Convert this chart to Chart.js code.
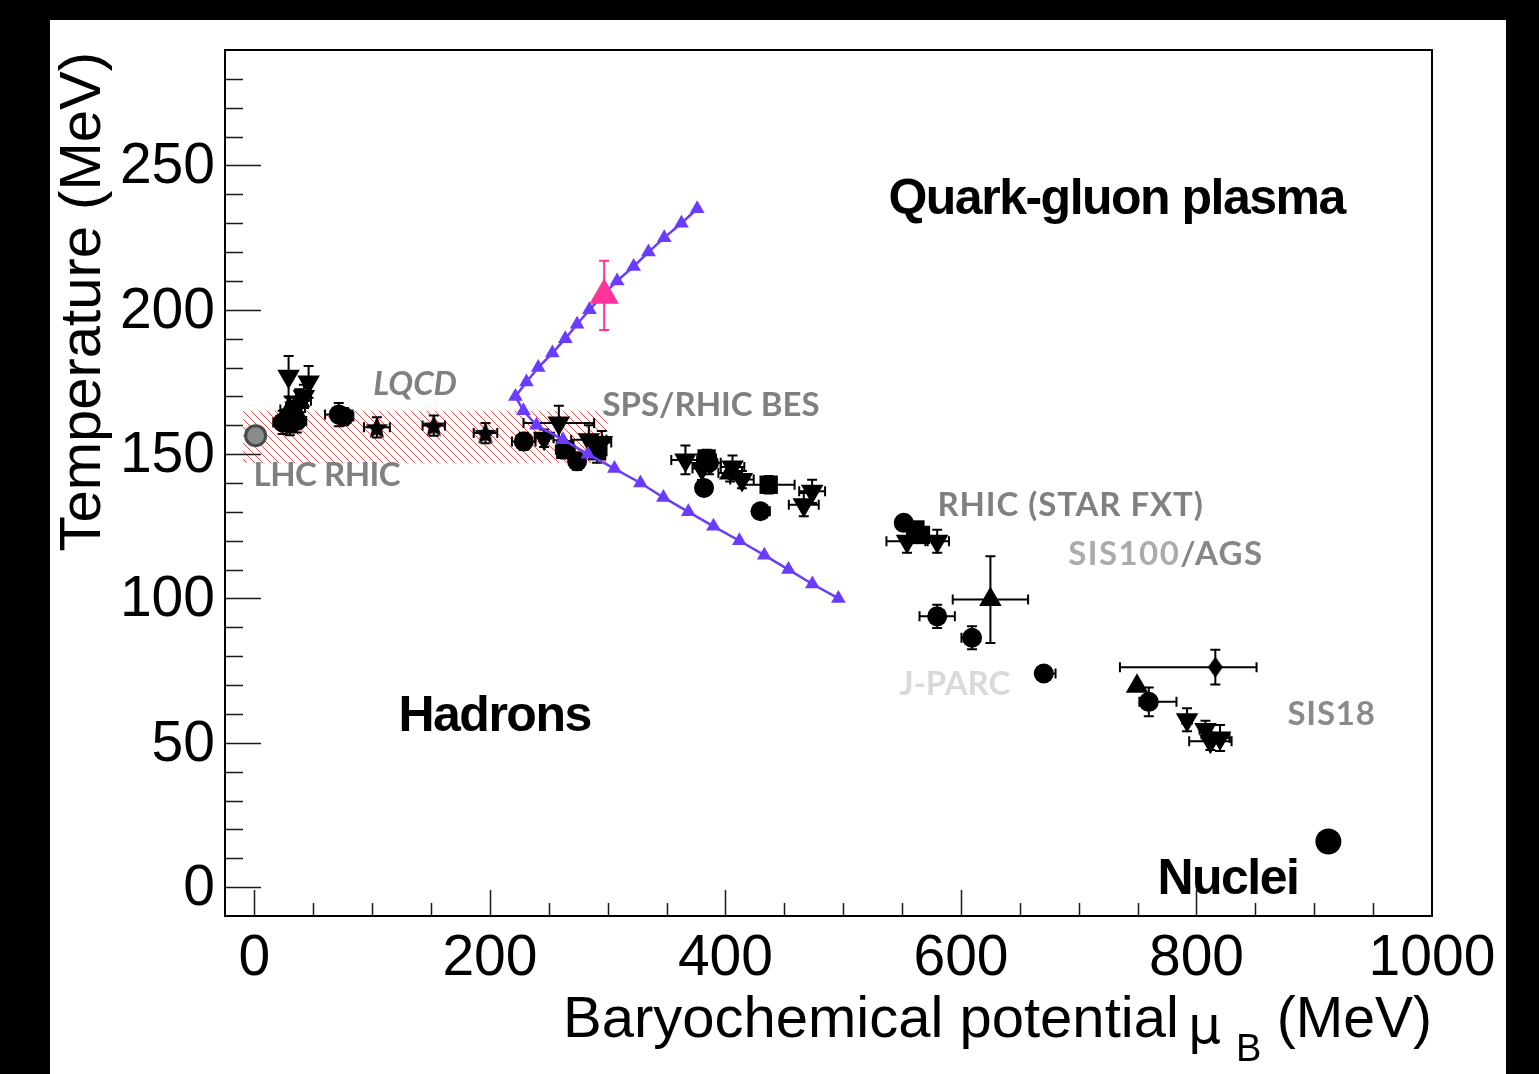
<!DOCTYPE html>
<html>
<head>
<meta charset="utf-8">
<title>QCD phase diagram</title>
<script src="https://cdn.jsdelivr.net/npm/chart.js@4.4.1/dist/chart.umd.min.js"></script>
<style>
  html, body { margin: 0; padding: 0; background: #000; overflow: hidden; }
  #wrap { position: absolute; left: 0; top: 0; width: 1539px; height: 1074px; }
</style>
</head>
<body>
<div id="wrap"><canvas id="phase" width="1539" height="1074"></canvas></div>
<script>
// ---- axes ----
const muBRange = [-25, 1000];
const tempRange = [-10, 290];
const muBMajorTicks = [0, 200, 400, 600, 800, 1000];
const muBMinorStep = 50;
const tempMajorTicks = [0, 50, 100, 150, 200, 250];
const tempMinorStep = 10;

// ---- freeze-out points (MeV); errors are [low, high] or symmetric ----
const circleMuB = [24, 30, 36, 71.6, 76, 228.7, 274, 386, 381.8, 429.7, 551.4, 579.8, 609.4, 670.3, 759.5];
const circleT   = [161, 160.5, 161.5, 163.7, 163, 154.4, 147.5, 147, 138.3, 130.2, 126.2, 93.8, 86.4, 74, 64.2];
const circleErrMuB = [8, 8, 8, 11.6, 8, 10, 6, 10, 0, [0, 8], 5, 15, [9, 0], [0, 10], [8, 23.5]];
const circleErrT   = [4, 4, 4, 4, 3, 3, 3, 4, 0, 0, 2, 4, 4, 2, 5];

const downTriMuB = [29, 46, 42, 35, 246, 258.5, 284, 295, 366, 380, 406, 414, 473.6, 466.5, 554.2, 579.8, 792, 807.6, 820, 811.8];
const downTriT   = [177, 175, 170, 166, 155.5, 160.8, 155, 154, 148, 145, 145.5, 141.2, 137.1, 132.5, 119.8, 119.8, 58, 54.6, 51.7, 50.5];
const downTriErrMuB = [0, 0, 6, 8, 8, 30, 15, 8, 12, 8, 10, 10, 11, 12.7, 17.5, 10, 4, 5, 8, 18];
const downTriErrT   = [7, 5.5, 4, 4, 3, 6, 5, 4, 5, 4, 4, 3, 4, 4, 4, 4, 4, 3, 4.5, 3];

const upTriMuB = [30, 38, 404, 625, 749.5];
const upTriT   = [165.5, 168.5, 143.5, 99.6, 69.6];
const upTriErrMuB = [8, 10, 10, 32, 0];
const upTriErrT   = [4, 4, 3, 15, 0];

const squareMuB = [33, 264, 291, 384, 436.7, 561.3, 566];
const squareT   = [163, 151.5, 151, 148.5, 139.4, 123.9, 122];
const squareErrMuB = [8, 8, 8, 8, 22, 6, 5];
const squareErrT   = [3, 3, 4, 3, 3, 2, 2];

const starMuB = [104, 152.3, 196.2];
const starT   = [159.3, 159.9, 157.3];
const starErrMuB = [11, 9.5, 10];
const starErrT   = [3.5, 3.5, 3.5];

const diamondMuB = [816];
const diamondT   = [76.2];
const diamondErrMuB = [[81, 35]];
const diamondErrT   = [6];

const lhcMuB = [1];
const lhcT   = [156.4];

const nucleiMuB = [912];
const nucleiT   = [15.8];

// lattice QCD crossover band
const lqcdBandMuB = [-10, 300];
const lqcdBandT   = [147, 165];

// model phase boundary
const boundaryMuB = [376, 362.6, 348, 334.6, 322, 308, 295.5, 284.5, 274, 264, 253, 241, 231, 221.6,
                     228.4, 239.5, 262, 283.2, 305.7, 327.8, 347.3, 368.5, 389.8, 411.8, 433, 453.5, 473.8, 495.9];
const boundaryT   = [235, 230, 225, 220, 215, 210, 205, 200, 195, 190, 185, 180, 175, 170,
                     165, 160, 155, 150, 145, 140, 135, 130, 125, 120, 115, 110, 105, 100];

// highlighted estimate
const pinkMuB = [297];
const pinkT   = [205];
const pinkErrT = [12];

// ---- helpers ----
const pair = e => Array.isArray(e) ? e : [e, e];
function points(xs, ys, ex, ey) {
  return xs.map((x, i) => {
    const [xl, xh] = pair(ex ? ex[i] : 0);
    const [yl, yh] = pair(ey ? ey[i] : 0);
    return { x, y: ys[i], xl, xh, yl, yh };
  });
}

function hatchPattern(ctx) {
  const s = 8;
  const c = document.createElement('canvas');
  c.width = s; c.height = s;
  const g = c.getContext('2d');
  g.strokeStyle = '#ff5050';
  g.lineWidth = 1;
  g.beginPath();
  g.moveTo(-1, -1); g.lineTo(s + 1, s + 1);
  g.moveTo(s - 1, -1); g.lineTo(s + 1, 1);
  g.moveTo(-1, s - 1); g.lineTo(1, s + 1);
  g.stroke();
  return ctx.createPattern(c, 'repeat');
}

function starMarker(r) {
  const s = Math.ceil(2 * r + 2);
  const c = document.createElement('canvas');
  c.width = s; c.height = s;
  const g = c.getContext('2d');
  g.translate(s / 2, s / 2 + 1);
  g.beginPath();
  for (let k = 0; k < 10; k++) {
    const rad = (k % 2 === 0) ? r : r * 0.45;
    const a = -Math.PI / 2 + k * Math.PI / 5;
    g.lineTo(rad * Math.cos(a), rad * Math.sin(a));
  }
  g.closePath();
  g.fillStyle = '#000';
  g.fill();
  return c;
}

function diamondMarker(w, h) {
  const c = document.createElement('canvas');
  c.width = w; c.height = h;
  const g = c.getContext('2d');
  g.beginPath();
  g.moveTo(w / 2, 0); g.lineTo(w, h / 2); g.lineTo(w / 2, h); g.lineTo(0, h / 2);
  g.closePath();
  g.fillStyle = '#000';
  g.fill();
  return c;
}

const canvas = document.getElementById('phase');
const ctx = canvas.getContext('2d');

const black = '#000';
const purple = '#6a3cff';
const pink = '#ff3399';

const blackMarker = (style, r, extra) => Object.assign({
  pointStyle: style, pointRadius: r, backgroundColor: black, borderColor: black,
  borderWidth: 0, errorColor: black, order: 5
}, extra || {});

const datasets = [
  Object.assign({ label: 'circles', data: points(circleMuB, circleT, circleErrMuB, circleErrT) }, blackMarker('circle', 10)),
  Object.assign({ label: 'down triangles', data: points(downTriMuB, downTriT, downTriErrMuB, downTriErrT) }, blackMarker('triangle', 13, { pointRotation: 180, rotation: 180 })),
  Object.assign({ label: 'up triangles', data: points(upTriMuB, upTriT, upTriErrMuB, upTriErrT) }, blackMarker('triangle', 13)),
  Object.assign({ label: 'squares', data: points(squareMuB, squareT, squareErrMuB, squareErrT) }, blackMarker('rect', 13)),
  Object.assign({ label: 'stars', data: points(starMuB, starT, starErrMuB, starErrT) }, blackMarker(starMarker(12), 12)),
  Object.assign({ label: 'diamond', data: points(diamondMuB, diamondT, diamondErrMuB, diamondErrT) }, blackMarker(diamondMarker(15, 21), 10)),
  Object.assign({ label: 'nuclei', data: points(nucleiMuB, nucleiT) }, blackMarker('circle', 13, { errorColor: null })),
  {
    label: 'LHC RHIC', data: points(lhcMuB, lhcT), pointStyle: 'circle', pointRadius: 10,
    backgroundColor: '#8c8c8c', borderColor: '#4a4a4a', borderWidth: 3, order: 4
  },
  {
    label: 'LQCD upper', type: 'line', data: points(lqcdBandMuB, [lqcdBandT[1], lqcdBandT[1]]),
    borderWidth: 0, borderColor: 'rgba(0,0,0,0)', pointRadius: 0,
    backgroundColor: hatchPattern(ctx), fill: '+1', order: 20
  },
  {
    label: 'LQCD lower', type: 'line', data: points(lqcdBandMuB, [lqcdBandT[0], lqcdBandT[0]]),
    borderWidth: 0, borderColor: 'rgba(0,0,0,0)', pointRadius: 0, fill: false, order: 21
  },
  {
    label: 'boundary', type: 'line', data: points(boundaryMuB, boundaryT),
    borderColor: purple, borderWidth: 2.5, backgroundColor: purple,
    pointStyle: 'triangle', pointRadius: 8.5, pointBorderWidth: 0, fill: false, tension: 0, order: 2
  },
  {
    label: 'estimate', data: points(pinkMuB, pinkT, null, pinkErrT),
    pointStyle: 'triangle', pointRadius: 17, backgroundColor: pink, borderColor: pink,
    borderWidth: 0, errorColor: pink, order: 1
  }
];

// ---- text placed in (muB, T) coordinates: left edge, baseline ----
const regionFont = 'bold 50px "Liberation Sans", Arial, sans-serif';
const facilityFont = 'bold 33px Lato, "Open Sans", sans-serif';
const annotations = [
  { parts: [['Quark-gluon plasma', '#000']], at: [538.4, 233.3], font: regionFont, spacing: '-1.5px' },
  { parts: [['Hadrons', '#000']], at: [122.3, 54], font: regionFont, spacing: '-1.5px' },
  { parts: [['Nuclei', '#000']], at: [766.8, -2.5], font: regionFont, spacing: '-1.5px' },
  { parts: [['LQCD', '#808080']], at: [101, 170.4], font: 'italic ' + facilityFont },
  { parts: [['SPS/RHIC BES', '#808080']], at: [295.5, 163.3], font: facilityFont },
  { parts: [['LHC RHIC', '#808080']], at: [-0.8, 138.8], font: facilityFont, spacing: '-0.5px' },
  { parts: [['RHIC (STAR FXT)', '#808080']], at: [580, 128.7], font: facilityFont, spacing: '0.9px' },
  { parts: [['SIS100', '#ababab'], ['/AGS', '#878787']], at: [691.2, 111.7], font: facilityFont, spacing: '1.4px' },
  { parts: [['J-PARC', '#d9d9d9']], at: [547.7, 66.4], font: facilityFont },
  { parts: [['SIS18', '#8a8a8a']], at: [877.2, 56], font: facilityFont, spacing: '0.8px' }
];

const axisFont = '57px "Liberation Sans", Arial, sans-serif';
const titleFont = '58px "Liberation Sans", Arial, sans-serif';

// error bars, drawn just beneath each dataset's markers
const errorBars = {
  id: 'errorBars',
  beforeDatasetDraw(chart, args) {
    const ds = chart.data.datasets[args.index];
    if (!ds.errorColor) return;
    const xs = chart.scales.x, ys = chart.scales.y, c = chart.ctx;
    const cap = 5;
    c.save();
    c.strokeStyle = ds.errorColor;
    c.lineWidth = 2;
    c.beginPath();
    ds.data.forEach(p => {
      const px = xs.getPixelForValue(p.x), py = ys.getPixelForValue(p.y);
      if (p.xl || p.xh) {
        const a = xs.getPixelForValue(p.x - p.xl), b = xs.getPixelForValue(p.x + p.xh);
        c.moveTo(a, py); c.lineTo(b, py);
        if (p.xl) { c.moveTo(a, py - cap); c.lineTo(a, py + cap); }
        if (p.xh) { c.moveTo(b, py - cap); c.lineTo(b, py + cap); }
      }
      if (p.yl || p.yh) {
        const a = ys.getPixelForValue(p.y - p.yl), b = ys.getPixelForValue(p.y + p.yh);
        c.moveTo(px, a); c.lineTo(px, b);
        if (p.yl) { c.moveTo(px - cap, a); c.lineTo(px + cap, a); }
        if (p.yh) { c.moveTo(px - cap, b); c.lineTo(px + cap, b); }
      }
    });
    c.stroke();
    c.restore();
  }
};

// page, frame, inward ticks, axis labels and region labels
const frame = {
  id: 'frame',
  beforeDraw(chart) {
    const c = chart.ctx;
    c.save();
    c.fillStyle = '#000';
    c.fillRect(0, 0, chart.width, chart.height);
    c.fillStyle = '#fff';
    c.fillRect(50, 20, 1456, chart.height - 20);
    c.restore();
  },
  afterDraw(chart) {
    const c = chart.ctx, area = chart.chartArea;
    const xs = chart.scales.x, ys = chart.scales.y;
    c.save();

    // frame
    c.strokeStyle = '#000';
    c.lineWidth = 2;
    c.strokeRect(area.left, area.top, area.right - area.left, area.bottom - area.top);

    // ticks
    c.lineWidth = 1.5;
    c.strokeStyle = '#1a1a1a';
    c.beginPath();
    for (let v = 0; v < tempRange[1]; v += tempMinorStep) {
      const y = Math.round(ys.getPixelForValue(v)) + 0.5;
      const len = tempMajorTicks.includes(v) ? 36 : 18;
      c.moveTo(area.left, y); c.lineTo(area.left + len, y);
    }
    for (let v = 0; v < muBRange[1]; v += muBMinorStep) {
      const x = Math.round(xs.getPixelForValue(v)) + 0.5;
      const len = muBMajorTicks.includes(v) ? 26 : 13;
      c.moveTo(x, area.bottom); c.lineTo(x, area.bottom - len);
    }
    c.stroke();

    // tick labels
    c.fillStyle = '#000';
    c.font = axisFont;
    c.textAlign = 'right';
    c.textBaseline = 'middle';
    tempMajorTicks.forEach(v => c.fillText(String(v), area.left - 10, ys.getPixelForValue(v) + 2));
    c.textAlign = 'center';
    c.textBaseline = 'alphabetic';
    muBMajorTicks.forEach(v => c.fillText(String(v), xs.getPixelForValue(v), area.bottom + 59));

    // axis titles
    c.font = titleFont;
    c.save();
    c.translate(100, area.top + 2);
    c.rotate(-Math.PI / 2);
    c.textAlign = 'right';
    c.fillText('Temperature (MeV)', 0, 0);
    c.restore();

    const base = 1037;
    c.textAlign = 'right';
    c.font = '57px "Liberation Sans", Arial, sans-serif';
    c.fillText('(MeV)', area.right, base);
    c.textAlign = 'left';
    c.font = titleFont;
    c.fillText('Baryochemical potential', 563, base);
    c.font = '52px "DejaVu Sans", sans-serif';
    c.fillText('\u03bc', 1188, base + 6);
    c.font = '38px "Liberation Sans", Arial, sans-serif';
    c.fillText('B', 1236, base + 24);

    // labels
    c.textAlign = 'left';
    c.textBaseline = 'alphabetic';
    annotations.forEach(a => {
      c.font = a.font;
      c.letterSpacing = a.spacing || '0px';
      let x = xs.getPixelForValue(a.at[0]);
      const y = ys.getPixelForValue(a.at[1]);
      a.parts.forEach(([txt, col]) => {
        c.fillStyle = col;
        c.fillText(txt, x, y);
        x += c.measureText(txt).width;
      });
    });
    c.letterSpacing = '0px';
    c.restore();
  }
};

new Chart(ctx, {
  type: 'scatter',
  data: { datasets },
  options: {
    responsive: false,
    animation: false,
    devicePixelRatio: 1,
    layout: { padding: { left: 225, top: 50, right: 107, bottom: 158 } },
    scales: {
      x: { type: 'linear', min: muBRange[0], max: muBRange[1], display: false },
      y: { type: 'linear', min: tempRange[0], max: tempRange[1], display: false }
    },
    plugins: {
      legend: { display: false },
      tooltip: { enabled: false },
      filler: { propagate: false }
    },
    elements: { line: { tension: 0 } }
  },
  plugins: [errorBars, frame]
});
</script>
</body>
</html>
